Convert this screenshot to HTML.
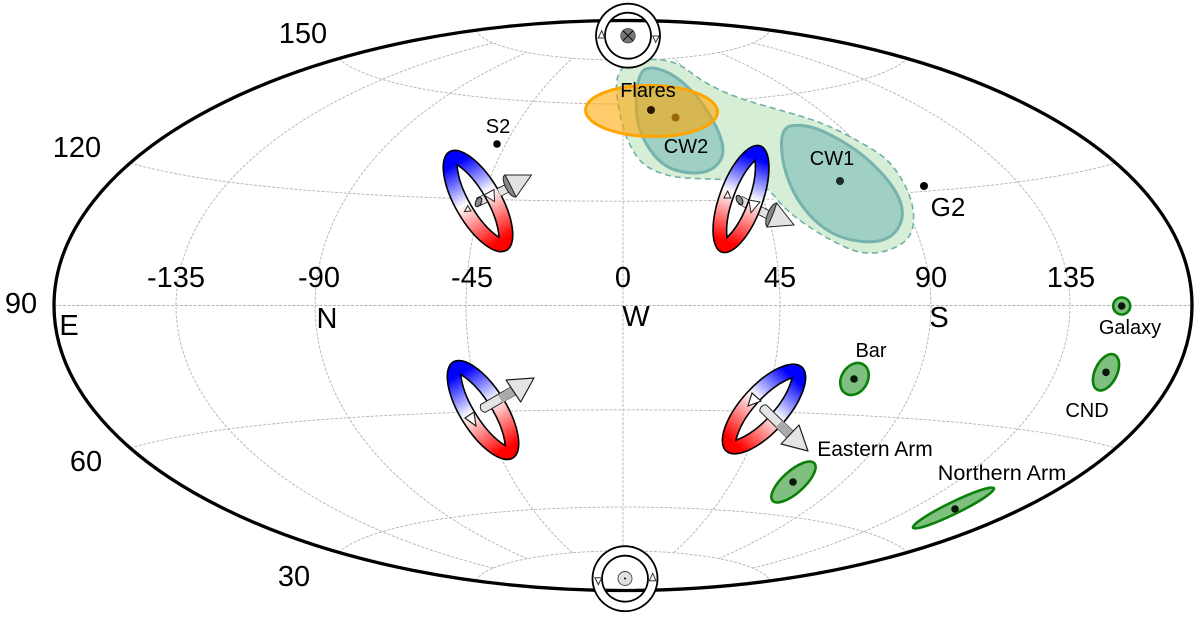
<!DOCTYPE html>
<html>
<head>
<meta charset="utf-8">
<style>
html,body{margin:0;padding:0;background:#fff;}
svg{display:block;}
text{font-family:"Liberation Sans",sans-serif;fill:#000;}
.b{font-size:29px;text-anchor:middle;}
.s{font-size:20px;text-anchor:middle;}
</style>
</head>
<body>
<svg id="s" width="1200" height="617" viewBox="0 0 1200 617" xmlns="http://www.w3.org/2000/svg">
<defs>
<linearGradient id="rg" x1="0" y1="0" x2="0" y2="1">
<stop offset="0.12" stop-color="#0000ff"/>
<stop offset="0.47" stop-color="#ffffff"/>
<stop offset="0.9" stop-color="#ff0000"/>
</linearGradient>
</defs>
<g id="grid" fill="none" stroke="#b4b4b4" stroke-width="0.9" stroke-dasharray="3 1.5"></g>

<path id="reg" fill="#d6eed6" stroke="#70b0a8" stroke-width="1.6" stroke-dasharray="6 4"></path>
<path id="cw2" fill="#a0cfc3" stroke="#76b3ae" stroke-width="3"></path>
<path id="cw1" fill="#a0cfc3" stroke="#76b3ae" stroke-width="3"></path>
<circle cx="675.5" cy="117.5" r="4" fill="#111"/>
<circle cx="840" cy="181" r="4" fill="#1c2a2c"/>
<ellipse cx="651.5" cy="111" rx="66" ry="25.5" transform="rotate(1 651.5 111)" fill="#ffa500" fill-opacity="0.58" stroke="#ffa500" stroke-width="3"/>
<circle cx="651" cy="110" r="4" fill="#2a1800"/>

<circle cx="497" cy="144" r="3.8" fill="#000"/>
<circle cx="924" cy="186" r="4" fill="#000"/>

<!-- main ellipse -->
<ellipse cx="623" cy="305.5" rx="569" ry="285" fill="none" stroke="#000" stroke-width="3.3"/>

<!-- top marker -->
<path d="M628 3.700a32 32 0 1 0 .01 0zM628 12.700a23 23 0 1 1 -.01 0z" fill="#fff" fill-rule="evenodd" stroke="#000" stroke-width="1.800"/>
<circle cx="628" cy="35.700" r="7.200" fill="#777" stroke="#444" stroke-width="0.800"/>
<path d="M623 30.700l10 10M633 30.700l-10 10" stroke="#000" stroke-width="1"/>
<path d="M598.300 38L601.700 30.700L604.700 38Z M652.700 36H659L655.700 42.300Z" fill="#fff" stroke="#333" stroke-width="1"/>

<!-- bottom marker -->
<path d="M625 546.200a32.500 32.500 0 1 0 .01 0zM625 555.700a23 23 0 1 1 -.01 0z" fill="#fff" fill-rule="evenodd" stroke="#000" stroke-width="1.800"/>
<circle cx="625" cy="578.500" r="7" fill="#e0e0e0" stroke="#444" stroke-width="0.900"/>
<circle cx="625" cy="578.500" r="1" fill="#000"/>
<path d="M595 577.700H601.700L598.300 584.700Z M649.300 580.700H656L652.700 573.300Z" fill="#fff" stroke="#333" stroke-width="1"/>

<!-- Ring 1 -->
<g transform="translate(478,201) rotate(-30)"><path d="M0 -42C11 -20 11 20 0 42C-11 20 -11 -20 0 -42Z" fill="#fff"/></g>
<line x1="478" y1="202" x2="510" y2="187" stroke="#222" stroke-width="9"/>
<line x1="480" y1="201" x2="512" y2="186" stroke="#e2e2e2" stroke-width="7.500"/>
<ellipse cx="478.500" cy="202" rx="2.800" ry="5" transform="rotate(25 478.500 202)" fill="#888" stroke="#111"/>
<g transform="translate(478,201) rotate(-30)">
<path d="M0 -57A23 57 0 1 1 0 57A23 57 0 1 1 0 -57ZM0 -42C11 -20 11 20 0 42C-11 20 -11 -20 0 -42Z" fill="url(#rg)" fill-rule="evenodd" stroke="#000" stroke-width="1.600"/>
</g>
<path d="M484 195L494 189.500L494.500 201.500Z M464.500 211.500L467.700 205.700L471 211Z" fill="#fff" stroke="#222" stroke-width="1"/>
<line x1="500" y1="192" x2="510" y2="187" stroke="#222" stroke-width="9"/>
<line x1="499" y1="192.500" x2="510" y2="187" stroke="#e2e2e2" stroke-width="7.500"/>
<ellipse cx="510" cy="186" rx="4.500" ry="12" transform="rotate(-27 510 186)" fill="#888" stroke="#222"/>
<path d="M505 175L531.500 175L516 197Q510 184 505 175Z" fill="#e2e2e2" stroke="#222" stroke-width="1"/>

<!-- Ring 2 -->
<g transform="translate(741,199) rotate(20)"><path d="M0 -41C10.500 -20 10.500 20 0 41C-10.500 20 -10.500 -20 0 -41Z" fill="#fff"/></g>
<line x1="740" y1="200" x2="772" y2="217" stroke="#222" stroke-width="9"/>
<line x1="738" y1="199" x2="774" y2="218" stroke="#e2e2e2" stroke-width="7.500"/>
<ellipse cx="739.500" cy="200" rx="2.800" ry="5" transform="rotate(-28 739.500 200)" fill="#888" stroke="#111"/>
<g transform="translate(741,199) rotate(20)">
<path d="M0 -56.500A21.500 56.500 0 1 1 0 56.500A21.500 56.500 0 1 1 0 -56.500ZM0 -41C10.500 -20 10.500 20 0 41C-10.500 20 -10.500 -20 0 -41Z" fill="url(#rg)" fill-rule="evenodd" stroke="#000" stroke-width="1.600"/>
</g>
<path d="M724 198L727.700 191L730.700 198Z M749 200L760 202L751 212.700Z" fill="#fff" stroke="#222" stroke-width="1"/>
<line x1="762" y1="211.500" x2="772" y2="217" stroke="#222" stroke-width="9"/>
<line x1="761" y1="211" x2="772" y2="217" stroke="#e2e2e2" stroke-width="7.500"/>
<ellipse cx="772" cy="215" rx="4.500" ry="12.500" transform="rotate(22 772 215)" fill="#888" stroke="#222"/>
<path d="M776.700 203L794 225L767 227Q773 216 776.700 203Z" fill="#e2e2e2" stroke="#222" stroke-width="1"/>

<!-- Ring 3 -->
<g transform="translate(483,410) rotate(-32)">
<path d="M0 -42C11 -20 11 20 0 42C-11 20 -11 -20 0 -42Z" fill="#fff"/>
<path d="M0 -56.500A23 56.500 0 1 1 0 56.500A23 56.500 0 1 1 0 -56.500ZM0 -42C11 -20 11 20 0 42C-11 20 -11 -20 0 -42Z" fill="url(#rg)" fill-rule="evenodd" stroke="#000" stroke-width="1.600"/>
</g>
<path d="M465 418L474 412L476 426Z" fill="#fff" stroke="#222" stroke-width="1.200"/>
<path d="M480.700 404.600L510.700 387.100L515.300 394.900L485.300 412.400Q479 411 480.700 404.600Z" fill="#e4e4e4" stroke="#222" stroke-width="1"/>
<path d="M498 395L510.700 387.100L515.300 394.900L502.500 402.800Z" fill="#aaa"/>
<path d="M506 380L534 378L520.700 402Z" fill="#e4e4e4" stroke="#222" stroke-width="1.200" stroke-linejoin="round"/>

<!-- Ring 4 -->
<g transform="translate(764,409) rotate(42)">
<path d="M0 -42C12 -20 12 20 0 42C-12 20 -12 -20 0 -42Z" fill="#fff"/>
<path d="M0 -56.500A23.500 56.500 0 1 1 0 56.500A23.500 56.500 0 1 1 0 -56.500ZM0 -42C12 -20 12 20 0 42C-12 20 -12 -20 0 -42Z" fill="url(#rg)" fill-rule="evenodd" stroke="#000" stroke-width="1.600"/>
</g>
<path d="M752 393L761 401L748 406Z" fill="#fff" stroke="#222" stroke-width="1.200"/>
<path d="M766.200 404.800L793.200 431.300L786.800 437.700L759.800 411.200Q760 405 766.200 404.800Z" fill="#e4e4e4" stroke="#222" stroke-width="1"/>
<path d="M782.200 420.500L793.200 431.300L786.800 437.700L775.800 427Z" fill="#aaa"/>
<path d="M799 425L781 444L808 451Z" fill="#e4e4e4" stroke="#222" stroke-width="1.200" stroke-linejoin="round"/>

<!-- Green objects -->
<g fill="#7fbf7f" stroke="#0a800a" stroke-width="2.600">
<circle cx="1121.700" cy="306" r="8.500"/>
<ellipse cx="1106" cy="372.300" rx="11" ry="19.500" transform="rotate(26 1106 372.300)"/>
<ellipse cx="854.500" cy="379" rx="13" ry="17" transform="rotate(32 854.500 379)"/>
<ellipse cx="793.500" cy="482" rx="28" ry="11" transform="rotate(-42 793.500 482)"/>
<ellipse cx="953.500" cy="508" rx="45" ry="6" transform="rotate(-26 953.500 508)"/>
</g>
<g fill="#0a1a0a">
<circle cx="1121.700" cy="306" r="3.800"/>
<circle cx="1106" cy="372.300" r="3.800"/>
<circle cx="854" cy="379" r="3.800"/>
<circle cx="793" cy="482" r="3.800"/>
<circle cx="955" cy="509" r="3.800"/>
</g>

<!-- Big labels -->
<text class="b" x="303" y="43">150</text>
<text class="b" x="77" y="157">120</text>
<text class="b" x="86" y="471">60</text>
<text class="b" x="294" y="586">30</text>
<text class="b" x="21" y="313">90</text>
<text class="b" x="176" y="287">-135</text>
<text class="b" x="319" y="287">-90</text>
<text class="b" x="472" y="287">-45</text>
<text class="b" x="623" y="287">0</text>
<text class="b" x="780" y="287">45</text>
<text class="b" x="931" y="287">90</text>
<text class="b" x="1071" y="287">135</text>
<text class="b" x="69" y="335">E</text>
<text class="b" x="327" y="328">N</text>
<text class="b" x="636" y="326">W</text>
<text class="b" x="939" y="327">S</text>
<text class="b" x="948" y="216" style="font-size:26px">G2</text>

<!-- Small labels -->
<text class="s" x="498" y="133">S2</text>
<text class="s" x="648" y="97">Flares</text>
<text class="s" x="686" y="153">CW2</text>
<text class="s" x="832" y="165">CW1</text>
<text class="s" x="871" y="357">Bar</text>
<text class="s" x="1130" y="334">Galaxy</text>
<text class="s" x="1087" y="417">CND</text>
<text class="s" x="875" y="456" style="font-size:21px">Eastern Arm</text>
<text class="s" x="1002" y="480" style="font-size:21.600px">Northern Arm</text>
</svg>
<script>
(function(){
var NS="http://www.w3.org/2000/svg",g=document.getElementById("grid");
function P(lon,lat){var l=lon*Math.PI/180,f=lat*Math.PI/180,d=Math.sqrt(1+Math.cos(f)*Math.cos(l/2));
return [(623+569*Math.cos(f)*Math.sin(l/2)/d).toFixed(2),(305.5-285*Math.sin(f)/d).toFixed(2)];}
function add(pts){var p=document.createElementNS(NS,"polyline");p.setAttribute("points",pts.join(" "));g.appendChild(p);}
[-135,-90,-45,0,45,90,135].forEach(function(lon){var a=[];for(var f=-75;f<=75;f+=2.5)a.push(P(lon,f).join(","));add(a);});
[-75,-60,-30,0,30,60,75].forEach(function(lat){var a=[];for(var l=-180;l<=180;l+=3)a.push(P(l,lat).join(","));add(a);});
function smooth(pts){var n=pts.length,d="";for(var i=0;i<n;i++){var a=pts[i],b=pts[(i+1)%n],m=[(a[0]+b[0])/2,(a[1]+b[1])/2];
if(i==0){var z=pts[n-1];d+="M"+((z[0]+a[0])/2)+" "+((z[1]+a[1])/2);}
d+="Q"+a[0]+" "+a[1]+" "+m[0]+" "+m[1];}return d+"Z";}
document.getElementById("reg").setAttribute("d",smooth([[640,60],[660,59],[680,64],[703,82],[737,98],[787,112],[823,123],[857,140],[890,160],[910,193],[915,220],[909,240],[887,252],[860,254],[830,240],[803,223],[783,207],[768,188],[750,180],[703,179],[670,177],[643,166],[628,143],[620,117],[615,83],[622,66]]));
document.getElementById("cw2").setAttribute("d",smooth([[648,66],[672,73],[698,96],[719,130],[725,155],[712,171],[690,174],[664,167],[644,143],[635,113],[638,76]]));
document.getElementById("cw1").setAttribute("d",smooth([[781,128],[800,124],[825,131],[865,155],[897,190],[905,218],[890,240],[860,243],[826,232],[798,203],[782,165]]));
})();
</script>
</body>
</html>
